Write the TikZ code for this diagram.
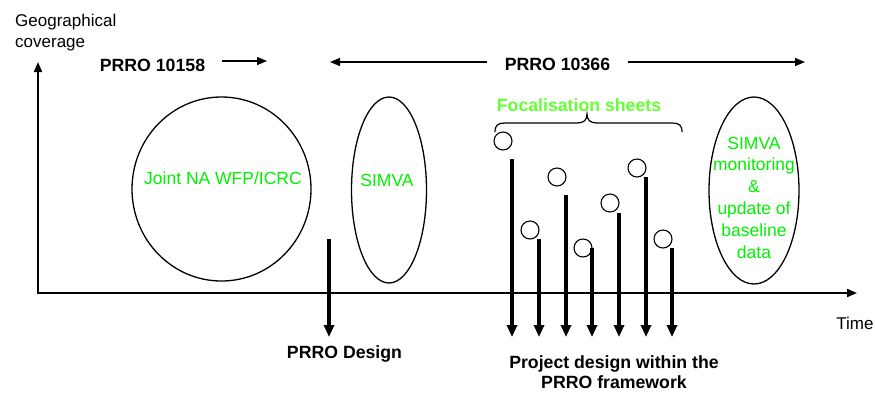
\documentclass[tikz,border=0pt]{standalone}
\usepackage{fontspec}
\setmainfont{Liberation Sans}
\usetikzlibrary{arrows.meta}
\definecolor{brightgreen}{RGB}{0,240,0}
\definecolor{lightgreen}{RGB}{102,255,51}
\tikzset{
  axis/.style={line width=2pt,-{Triangle[length=10pt,width=8pt]}},
  toparrow/.style={line width=1.3pt,-{Triangle[length=10pt,width=8pt]}},
  downarrow/.style={line width=3.3pt,-{Triangle[length=12pt,width=10pt]}},
  stem/.style={line width=3.3pt},
  bub/.style={circle,draw,line width=1.1pt,minimum size=18pt,inner sep=0pt},
  oval/.style={draw,line width=1.3pt},
  boldlabel/.style={font=\fontsize{17.7}{20}\selectfont\bfseries,inner sep=0pt,align=center},
  plainlabel/.style={font=\fontsize{17}{20.5}\selectfont,inner sep=0pt},
  greenlabel/.style={font=\fontsize{17.5}{21.8}\selectfont,text=brightgreen,inner sep=0pt,align=center},
}
\begin{document}
\begin{tikzpicture}[x=1pt,y=-1pt]
\useasboundingbox (0,0) rectangle (875,392);
% axes
\coordinate (origin) at (38,293);
\coordinate (ytip) at (38,62);
\coordinate (xtip) at (857,293);
\draw[axis] ([yshift=-1pt]origin) -- (ytip);
\draw[axis] ([xshift=-1pt]origin) -- (xtip);
\node[plainlabel,anchor=north west,align=left] (ylab) at (15,14) {Geographical\\coverage};
\node[plainlabel] (xlab) at (855,323) {Time};
% PRRO labels
\node[boldlabel] (p158) at (152.5,65) {PRRO 10158};
\coordinate (p158a) at (222,61);
\coordinate (p158b) at (267,61);
\draw[toparrow] (p158a) -- (p158b);
\node[boldlabel] (p366) at (557.5,64.5) {PRRO 10366};
\coordinate (p366l0) at (487,62);
\coordinate (p366l1) at (330,62);
\coordinate (p366r0) at (628,62);
\coordinate (p366r1) at (805,62);
\draw[toparrow] (p366l0) -- (p366l1);
\draw[toparrow] (p366r0) -- (p366r1);
% ellipses
\draw[oval] (221.5,189) ellipse [x radius=89.5, y radius=92];
\node[greenlabel] (joint) at (223,178) {Joint NA WFP/ICRC};
\draw[oval] (389,190) ellipse [x radius=37.5, y radius=93];
\node[greenlabel] (simva) at (387,180) {SIMVA};
\draw[oval] (754,190.5) ellipse [x radius=45, y radius=93.5];
\node[greenlabel] (simvam) at (754,197.5) {SIMVA\\monitoring\\\&\\update of\\baseline\\data};
% PRRO design arrow
\coordinate (dtop) at (329,239);
\coordinate (dbot) at (329,337);
\draw[downarrow] (dtop) -- (dbot);
\node[boldlabel] (design) at (344.5,354) {PRRO Design};
% brace
\node[boldlabel,text=lightgreen] (focal) at (579,105) {Focalisation sheets};
\draw[line width=1.2pt] (495,132) .. controls (495,125) and (498,123) .. (505,123) -- (577,123)
  .. controls (584,123) and (587,120) .. (587,114)
  .. controls (587,120) and (590,123) .. (597,123) -- (672,123)
  .. controls (679,123) and (682,125) .. (682,132);
% lollipops
\foreach \i/\cx/\cy/\lx/\ly in {1/503/141/512/159, 2/530/230/539/239, 3/557/177/566/195, 4/583/248/592/248, 5/610/203/619/213, 6/637/168/646/177, 7/663/239/672/248} {
  \node[bub] (c\i) at (\cx,\cy) {};
  \coordinate (t\i) at (\lx,\ly);
  \coordinate (b\i) at (\lx,337);
  \draw[downarrow] (t\i) -- (b\i);
}
\node[boldlabel] (proj) at (614,372.5) {Project design within the\\PRRO framework};
\end{tikzpicture}
\end{document}
